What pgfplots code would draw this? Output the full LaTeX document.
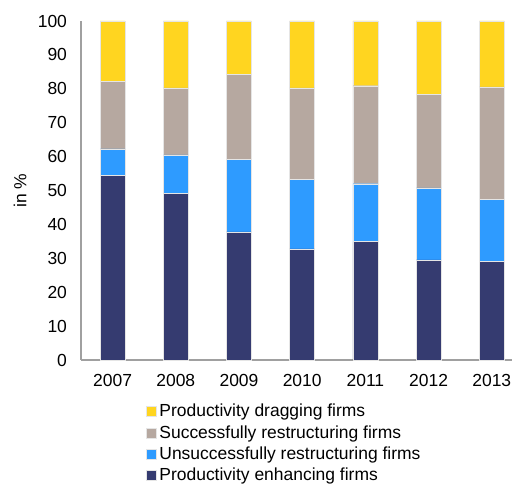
\documentclass[border=0pt]{standalone}
\usepackage{pgfplots}
\pgfplotsset{compat=1.18}
\usepackage{fontspec}
\setmainfont{Liberation Sans}
\definecolor{cdark}{HTML}{353B70}
\definecolor{cblue}{HTML}{2E9BFF}
\definecolor{cgray}{HTML}{B6A8A0}
\definecolor{cyellow}{HTML}{FFD520}
\definecolor{axgray}{HTML}{A0A0A0}
\begin{document}
\begin{tikzpicture}[x=0.75pt,y=0.75pt]
\begin{axis}[
  at={(0,0)}, anchor=south west,
  scale only axis,
  width=323.25pt, height=254.25pt,
  ybar stacked,
  bar width=18.75pt,
  xmin=-0.5, xmax=6.32,
  ymin=0, ymax=100,
  ytick={0,10,...,100},
  xtick={0,1,2,3,4,5,6},
  xticklabels={2007,2008,2009,2010,2011,2012,2013},
  major tick length=0pt,
  axis x line*=bottom, axis y line*=left,
  axis line style={axgray, line width=1pt},
  x axis line style={-}, y axis line style={-},
  tick label style={font=\fontsize{13.1}{14}\selectfont},
  /pgf/number format/assume math mode=true,
  xticklabel style={yshift=-7pt},
  yticklabel style={xshift=-7pt},
  ylabel={in \%},
  ylabel style={font=\fontsize{13.1}{14}\selectfont, at={(axis description cs:-0.1415,0.5)}, anchor=center},
  clip=false,
  reverse legend,
  legend cell align=left,
  legend style={at={(axis description cs:0.151,-0.122)}, anchor=north west, draw=none, fill=none,
    font=\fontsize{13.1}{14}\selectfont, row sep=1.0pt, inner sep=0pt,
    /tikz/every even column/.append style={column sep=2pt}},
  legend image code/.code={\fill[#1] (0pt,-3.75pt) rectangle (7.5pt,3.75pt);},
  every axis plot/.append style={draw=white!80!gray, line width=0.3pt},
]
\addplot[fill=cdark] coordinates {(0,54.4) (1,49.1) (2,37.8) (3,32.8) (4,34.9) (5,29.5) (6,29.2)};
\addlegendentry{Productivity enhancing firms}
\addplot[fill=cblue] coordinates {(0,7.9) (1,11.4) (2,21.3) (3,20.4) (4,17.1) (5,21.3) (6,18.1)};
\addlegendentry{Unsuccessfully restructuring firms}
\addplot[fill=cgray] coordinates {(0,20.0) (1,19.8) (2,25.1) (3,27.1) (4,28.9) (5,27.6) (6,33.3)};
\addlegendentry{Successfully restructuring firms}
\addplot[fill=cyellow] coordinates {(0,17.7) (1,19.7) (2,15.8) (3,19.7) (4,19.1) (5,21.6) (6,19.4)};
\addlegendentry{Productivity dragging firms}
\end{axis}
\pgfresetboundingbox
\path[use as bounding box] (-81,-126) rectangle (431,360);
\end{tikzpicture}
\end{document}
